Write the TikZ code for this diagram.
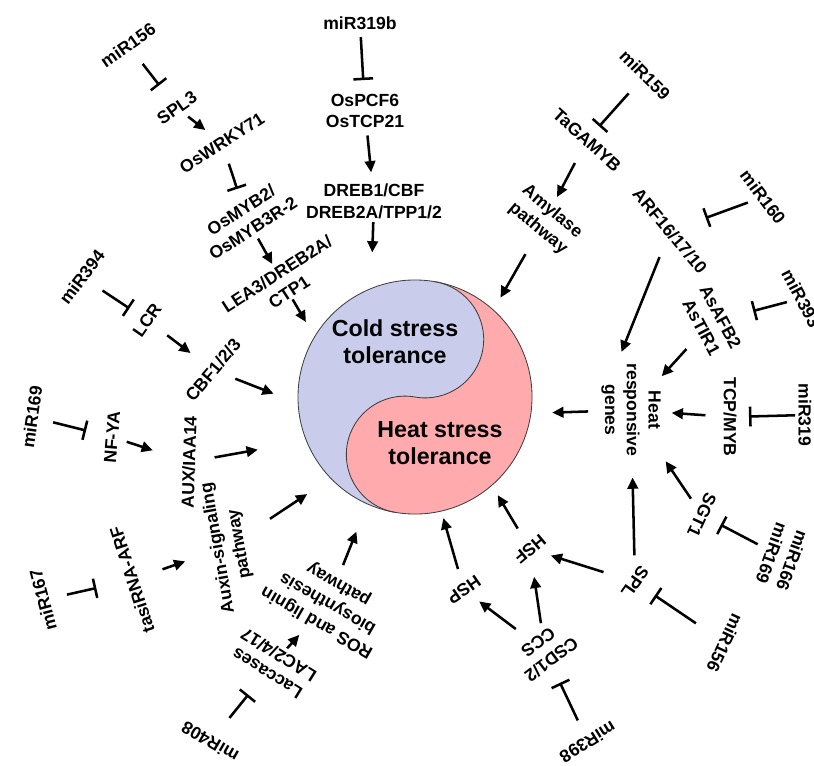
\documentclass[tikz,border=0pt]{standalone}
\usepackage{fontspec}
\setmainfont{Liberation Sans}
\usetikzlibrary{arrows.meta}
\definecolor{coldfill}{RGB}{202,204,236}
\definecolor{heatfill}{RGB}{255,170,172}
\tikzset{
  lbl/.style={font=\bfseries\fontsize{12.5}{15.5}\selectfont,align=center,inner sep=2pt},
  big/.style={font=\bfseries\fontsize{16.5}{19}\selectfont,align=center},
  arr/.style={-{Triangle[length=8pt,width=7.5pt]},line width=1.8pt},
  inh/.style={-{Bar[width=14pt]},line width=1.8pt},
  sh/.style 2 args={shorten <=#1pt,shorten >=#2pt},
}
\begin{document}
\begin{tikzpicture}[x=0.025cm,y=-0.025cm]
\useasboundingbox (0,0) rectangle (814,765);
% yin-yang
\node[circle,minimum size=5.85cm,inner sep=0pt] (yy) at (415,397) {};
\begin{scope}[shift={(yy.center)},rotate=-10]
  \fill[coldfill] (0pt,0pt) circle[radius=2.925cm];
  \fill[heatfill] (0pt,2.925cm) arc[start angle=90,end angle=-90,radius=2.925cm]
    arc[start angle=-90,end angle=-270,radius=1.4625cm]
    arc[start angle=-90,end angle=90,radius=1.4625cm] -- cycle;
  \draw[line width=0.6pt,black!75] (0pt,0pt) circle[radius=2.925cm];
  \draw[line width=0.6pt,black!75] (0pt,-2.925cm)
    arc[start angle=-90,end angle=-270,radius=1.4625cm]
    arc[start angle=-90,end angle=90,radius=1.4625cm];
\end{scope}
\node[big] (cold) at (395,342) {Cold stress\\tolerance};
\node[big] (hot) at (440,443) {Heat stress\\tolerance};

\node[lbl,rotate=35] (mir156a) at (128,45) {miR156};
\node[lbl,rotate=35] (spl3) at (177,108) {SPL3};
\node[lbl,rotate=33] (wrky) at (222,143) {OsWRKY71};
\node[lbl,rotate=33] (myb) at (247,219) {OsMYB2/\\OsMYB3R-2};
\node[lbl,rotate=33] (lea) at (283,283) {LEA3/DREB2A/\\CTP1};
\node[lbl] (mir319b) at (360,23) {miR319b};
\node[lbl] (pcf) at (365,111) {OsPCF6\\OsTCP21};
\node[lbl] (dreb) at (374,201) {DREB1/CBF\\DREB2A/TPP1/2};
\node[lbl,rotate=-45] (mir159) at (645,75) {miR159};
\node[lbl,rotate=-42] (gamyb) at (587,140) {TaGAMYB};
\node[lbl,rotate=-40] (amy) at (545,220) {Amylase\\pathway};
\node[lbl,rotate=-50] (arf) at (670,231) {ARF16/17/10};
\node[lbl,rotate=-53] (mir160) at (763,197) {miR160};
\node[lbl,rotate=-62,anchor=west] (mir393) at (785,268) {miR393};
\node[lbl,rotate=-62] (afb) at (711,322) {AsAFB2\\AsTIR1};
\node[lbl,rotate=-90] (genes) at (631,410) {Heat\\responsive\\genes};
\node[lbl,rotate=-90] (tcp) at (730,417) {TCP/MYB};
\node[lbl,rotate=-90] (mir319) at (805,415) {miR319};
\node[lbl,rotate=-115] (sgt) at (702,515) {SGT1};
\node[lbl,rotate=-110] (mir166) at (782,557) {miR166\\miR169};
\node[lbl,rotate=-125] (spl) at (635,582) {SPL};
\node[lbl,rotate=-115] (mir156b) at (725,643) {miR156};
\node[lbl,rotate=-140] (hsf) at (530,549) {HSF};
\node[lbl,rotate=-145] (hsp) at (464,590) {HSP};
\node[lbl,rotate=-143] (csd) at (545,651) {CSD1/2\\CCS};
\node[lbl,rotate=-148] (mir398) at (588,742) {miR398};
\node[lbl,rotate=53] (mir394) at (82,277) {miR394};
\node[lbl,rotate=55] (lcr) at (147,320) {LCR};
\node[lbl,rotate=50] (cbf) at (213,370) {CBF1/2/3};
\node[lbl,rotate=82] (mir169) at (32,417) {miR169};
\node[lbl,rotate=85] (nfya) at (112,437) {NF-YA};
\node[lbl,rotate=88] (aux) at (189,462) {AUX/IAA14};
\node[lbl,rotate=100] (auxin) at (229,546) {Auxin-signaling\\pathway};
\node[lbl,rotate=108] (tasi) at (132,580) {tasiRNA-ARF};
\node[lbl,rotate=105] (mir167) at (43,600) {miR167};
\node[lbl,rotate=150] (ros) at (328,603) {ROS and lignin\\biosynthesis\\pathway};
\node[lbl,rotate=148] (lac) at (273,664) {Laccases\\LAC2/4/17};
\node[lbl,rotate=150] (mir408) at (210,742) {miR408};

% cold side
\draw[inh,sh={17}{20.5}] (mir156a.center) -- (spl3.center);
\draw[arr,sh={10}{15}] (spl3.center) -- (wrky.center);
\draw[inh,sh={15.5}{22.5}] (wrky.center) -- (myb.center);
\draw[arr,sh={16}{15.5}] (myb.center) -- (lea.center);
\draw[arr,sh={13.5}{12}] (lea.center) -- (yy.149);
\draw[inh,sh={10}{22}] (mir319b.center) -- (pcf.center);
\draw[arr,sh={17.5}{20.5}] (pcf.center) -- (dreb.center);
\draw[arr,sh={15}{25.5}] (dreb.center) -- (yy.112);
\draw[inh,sh={17.5}{13}] (mir159.center) -- (gamyb.center);
\draw[arr,sh={18.5}{18.5}] (gamyb.center) -- (amy.center);
\draw[arr,sh={28}{10}] (amy.center) -- (yy.48);
\draw[inh,sh={17.5}{15}] (mir394.center) -- (lcr.center);
\draw[arr,sh={18}{20}] (lcr.center) -- (cbf.center);
\draw[arr,sh={17}{18.5}] (cbf.center) -- (yy.183);
\draw[inh,sh={15.5}{19}] (mir169.center) -- (nfya.center);
\draw[arr,sh={11}{27}] (nfya.center) -- (aux.center);
\draw[arr,sh={18.5}{35}] (aux.center) -- (yy.202);
\draw[inh,sh={17.5}{26}] (mir167.center) -- (tasi.center);
\draw[arr,sh={23}{33}] (tasi.center) -- (auxin.center);
\draw[arr,sh={35}{20}] (auxin.center) -- (yy.224);
\draw[inh,sh={22}{28}] (mir408.center) -- (lac.center);
\draw[arr,sh={15}{30.5}] (lac.center) -- (ros.center);
\draw[arr,sh={29}{21}] (ros.center) -- (yy.246);
% heat side
\draw[inh,sh={11.5}{27}] (mir160.center) -- (arf.center);
\draw[arr,sh={20}{44.5}] (arf.center) -- (genes.south);
\draw[inh,sh={10.5}{31}] (mir393.center) -- (afb.center);
\draw[arr,sh={26}{32.5}] (afb.center) -- (genes.center);
\draw[inh,sh={7}{13.5}] (mir319.center) -- (tcp.center);
\draw[arr,sh={17.5}{29}] (tcp.center) -- (genes.center);
\draw[arr,sh={30.5}{15}] (genes.center) -- (yy.352);
\draw[inh,sh={19.5}{15}] (mir166.center) -- (sgt.center);
\draw[arr,sh={14}{44}] (sgt.center) -- (genes.center);
\draw[inh,sh={25}{17}] (mir156b.center) -- (spl.center);
\draw[arr,sh={19}{48}] (spl.center) -- (genes.center);
\draw[arr,sh={23.5}{15.5}] (spl.center) -- (hsf.center);
\draw[arr,sh={17}{8}] (hsf.center) -- (yy.311);
\draw[arr,sh={15.5}{5}] (hsp.center) -- (yy.283);
\draw[inh,sh={17}{25}] (mir398.center) -- (csd.center);
\draw[arr,sh={26}{13.5}] (csd.center) -- (hsp.center);
\draw[arr,sh={20}{20}] (csd.center) -- (hsf.center);
\end{tikzpicture}
\end{document}
